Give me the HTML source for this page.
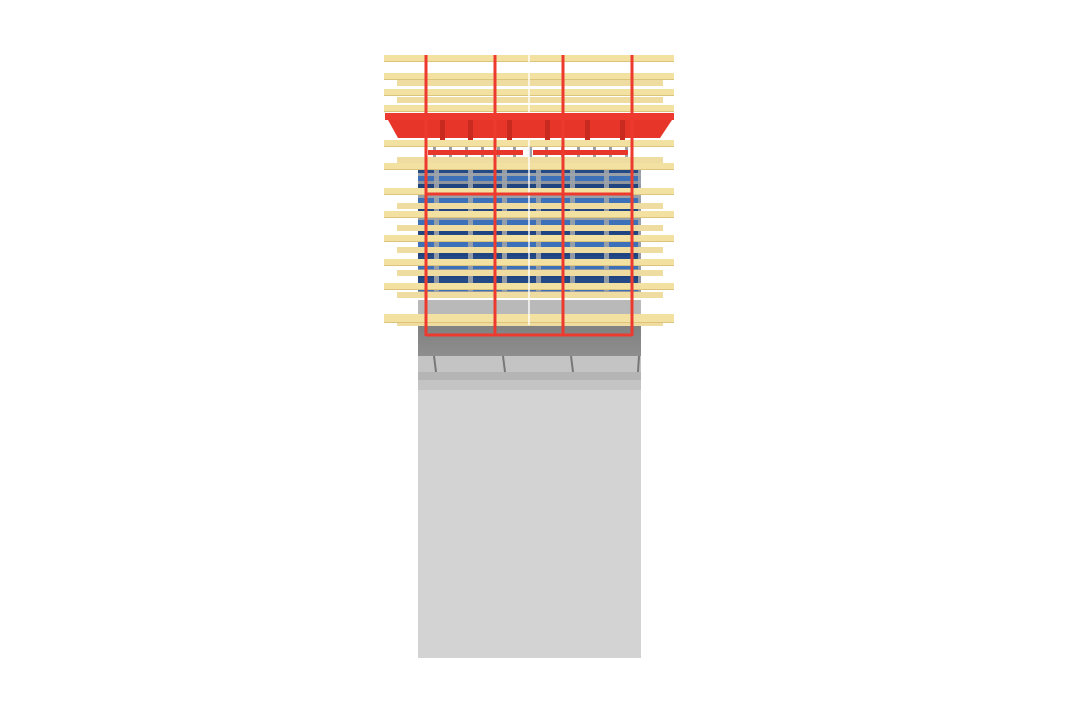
<!DOCTYPE html>
<html><head><style>
html,body{margin:0;padding:0;background:#fff;}
#c{position:relative;width:1068px;height:713px;overflow:hidden;background:#fff;}
.a{position:absolute;}
.p{position:absolute;background:#f3e1a2;height:7px;box-shadow:inset 0 -1px 0 #dcc47c;}
.s{position:absolute;background:#efdca0;height:6px;}
.r{position:absolute;background:#ee3a2e;}
</style></head><body><div id="c">
<!-- concrete -->
<div class="a" style="left:418px;top:300px;width:223px;height:358px;background:#d3d3d3"></div>
<div class="a" style="left:418px;top:320px;width:223px;height:36px;background:linear-gradient(180deg,#7e7e7e,#8e8e8e)"></div>
<div class="a" style="left:418px;top:356px;width:223px;height:34px;background:#c4c4c4"></div>
<div class="a" style="left:418px;top:372px;width:223px;height:8px;background:#b5b5b5"></div>
<div class="a" style="left:418px;top:300px;width:223px;height:20px;background:#b9b9b9"></div>
<!-- blue panel -->
<div class="a" style="left:418px;top:168px;width:223px;height:130px;background:repeating-linear-gradient(180deg,#234a86 0 5px,#9aa0a8 5px 8px,#3c70b8 8px 13px,#8f959c 13px 16px,#1f4480 16px 22px);"></div>
<div class="a" style="left:418px;top:168px;width:223px;height:130px;background:repeating-linear-gradient(90deg,transparent 0 16px,#9ea4aa 16px 21px,transparent 21px 34px);opacity:.9"></div>
<!-- struts region -->
<div class="a" style="left:425px;top:147px;width:210px;height:18px;background:repeating-linear-gradient(90deg,transparent 0 8px,#9aa0a6 8px 11px,transparent 11px 16px)"></div>
<!-- short planks -->
<div class="s" style="left:397px;top:80px;width:266px"></div>
<div class="s" style="left:397px;top:97px;width:266px"></div>
<div class="s" style="left:397px;top:157px;width:266px"></div>
<div class="s" style="left:397px;top:203px;width:266px"></div>
<div class="s" style="left:397px;top:225px;width:266px"></div>
<div class="s" style="left:397px;top:247px;width:266px"></div>
<div class="s" style="left:397px;top:270px;width:266px"></div>
<div class="s" style="left:397px;top:292px;width:266px"></div>
<div class="s" style="left:397px;top:320px;width:266px"></div>
<!-- full planks -->
<div class="p" style="left:384px;top:55px;width:290px"></div>
<div class="p" style="left:384px;top:73px;width:290px"></div>
<div class="p" style="left:384px;top:89px;width:290px"></div>
<div class="p" style="left:384px;top:105px;width:290px"></div>
<div class="p" style="left:384px;top:140px;width:290px"></div>
<div class="p" style="left:384px;top:163px;width:290px"></div>
<div class="p" style="left:384px;top:188px;width:290px"></div>
<div class="p" style="left:384px;top:211px;width:290px"></div>
<div class="p" style="left:384px;top:235px;width:290px"></div>
<div class="p" style="left:384px;top:259px;width:290px"></div>
<div class="p" style="left:384px;top:283px;width:290px"></div>
<div class="p" style="left:384px;top:314px;width:290px;height:9px"></div>
<!-- plank split -->
<div class="a" style="left:528px;top:55px;width:2px;height:270px;background:rgba(255,255,255,.7)"></div>
<!-- red platform -->
<div class="r" style="left:385px;top:113px;width:289px;height:7px"></div>
<svg class="a" style="left:0;top:0" width="1068" height="713">
<polygon points="388,120 672,120 660,138 398,138" fill="#e8352a"/>
<rect x="428" y="150" width="95" height="5" fill="#e8352a"/>
<rect x="533" y="150" width="95" height="5" fill="#e8352a"/>
<g fill="#c92a20">
<rect x="440" y="120" width="5" height="20"/><rect x="468" y="120" width="5" height="20"/><rect x="507" y="120" width="5" height="20"/><rect x="545" y="120" width="5" height="20"/><rect x="585" y="120" width="5" height="20"/><rect x="620" y="120" width="5" height="20"/>
</g>
<g stroke="#ee3a2e" stroke-width="3" fill="none">
<line x1="426" y1="55" x2="426" y2="336"/><line x1="495" y1="55" x2="495" y2="336"/><line x1="563" y1="55" x2="563" y2="336"/><line x1="632" y1="55" x2="632" y2="336"/>
<line x1="426" y1="335" x2="632" y2="335"/><line x1="426" y1="194" x2="632" y2="194"/>
</g>
<g stroke="#777" stroke-width="2">
<line x1="434" y1="356" x2="436" y2="372"/><line x1="503" y1="356" x2="505" y2="372"/><line x1="571" y1="356" x2="573" y2="372"/><line x1="639" y1="356" x2="638" y2="372"/>
</g>
</svg>
</div></body></html>
